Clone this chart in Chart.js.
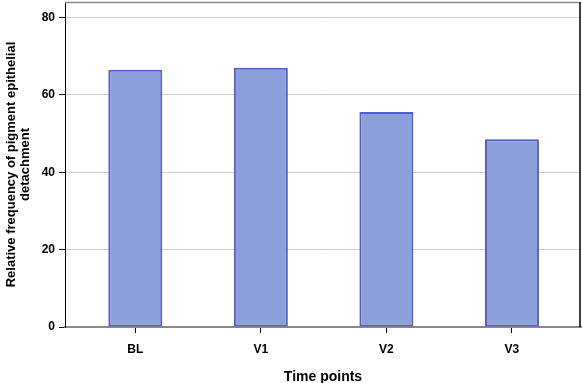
<!DOCTYPE html>
<html>
<head>
<meta charset="utf-8">
<script src="https://cdn.jsdelivr.net/npm/chart.js@4.4.0/dist/chart.umd.min.js"></script>
<style>
  html, body { margin: 0; padding: 0; background: #fff; }
  #wrap { width: 582px; height: 383px; }
</style>
</head>
<body>
<div id="wrap"><canvas id="pedChart"></canvas></div>
<script>
// Time points and relative frequency (%) of pigment epithelial detachment
const timePoints = ["BL", "V1", "V2", "V3"];
const relFrequency = [66.5, 67.0, 55.6, 48.5];
const yTicks = [0, 20, 40, 60, 80];

// Draws the frame on the top (grey) and right (black) of the plot area
const framePlugin = {
  id: "frame",
  afterDraw(chart) {
    const { ctx, chartArea: a } = chart;
    ctx.save();
    ctx.lineWidth = 1.5;
    ctx.strokeStyle = "#8a8a8a";
    ctx.beginPath();
    ctx.moveTo(a.left, a.top + 0.5);
    ctx.lineTo(a.right - 1, a.top + 0.5);
    ctx.stroke();
    ctx.strokeStyle = "#000";
    ctx.beginPath();
    ctx.moveTo(a.right - 1, a.top);
    ctx.lineTo(a.right - 1, a.bottom);
    ctx.stroke();
    ctx.restore();
  },
};

Chart.defaults.font.family = "Arial, 'Liberation Sans', sans-serif";
Chart.defaults.color = "#000";

const ctx = document.getElementById("pedChart").getContext("2d");
new Chart(ctx, {
  type: "bar",
  data: {
    labels: timePoints,
    datasets: [
      {
        data: relFrequency,
        backgroundColor: "rgb(139, 159, 219)",
        borderColor: "rgb(82, 92, 204)",
        borderWidth: 2,
        borderSkipped: false,
        barPercentage: 0.86,
        categoryPercentage: 0.5,
      },
    ],
  },
  options: {
    responsive: true,
    maintainAspectRatio: false,
    animation: false,
    layout: { padding: { top: 2, right: 1, left: 0, bottom: 0 } },
    plugins: {
      legend: { display: false },
      tooltip: { enabled: false },
    },
    scales: {
      x: {
        grid: {
          drawOnChartArea: false,
          drawTicks: true,
          offset: false,
          tickLength: 6,
          tickColor: "#000",
        },
        border: { color: "#888", width: 2 },
        ticks: {
          font: { size: 12, weight: "bold" },
          padding: 9,
        },
        title: {
          display: true,
          text: "Time points",
          font: { size: 14, weight: "bold" },
          padding: { top: 6, bottom: -3 },
        },
        // the categories sit a little inside the frame, as in the original
        afterBuildTicks(scale) {
          scale._startValue = -0.56;
          scale._valueRange = 4.11;
        },
        afterFit(scale) {
          scale.height = 56;
          scale.paddingLeft = 0;
          scale.paddingRight = 0;
        },
      },
      y: {
        min: 0,
        max: 84,
        afterBuildTicks(scale) {
          scale.ticks = yTicks.map((v) => ({ value: v }));
        },
        grid: {
          color: "#cfcfcf",
          tickColor: "#000",
          tickLength: 6,
        },
        border: { color: "#000", width: 1 },
        ticks: {
          font: { size: 12, weight: "bold" },
          padding: 4,
        },
        title: {
          display: true,
          text: ["Relative frequency of pigment epithelial", "detachment"],
          font: { size: 13, weight: "bold", lineHeight: 1.1 },
          padding: { bottom: 5 },
        },
        afterFit(scale) {
          scale.width = 65;
          scale.paddingTop = 0;
          scale.paddingBottom = 0;
        },
      },
    },
  },
  plugins: [framePlugin],
});
</script>
</body>
</html>
